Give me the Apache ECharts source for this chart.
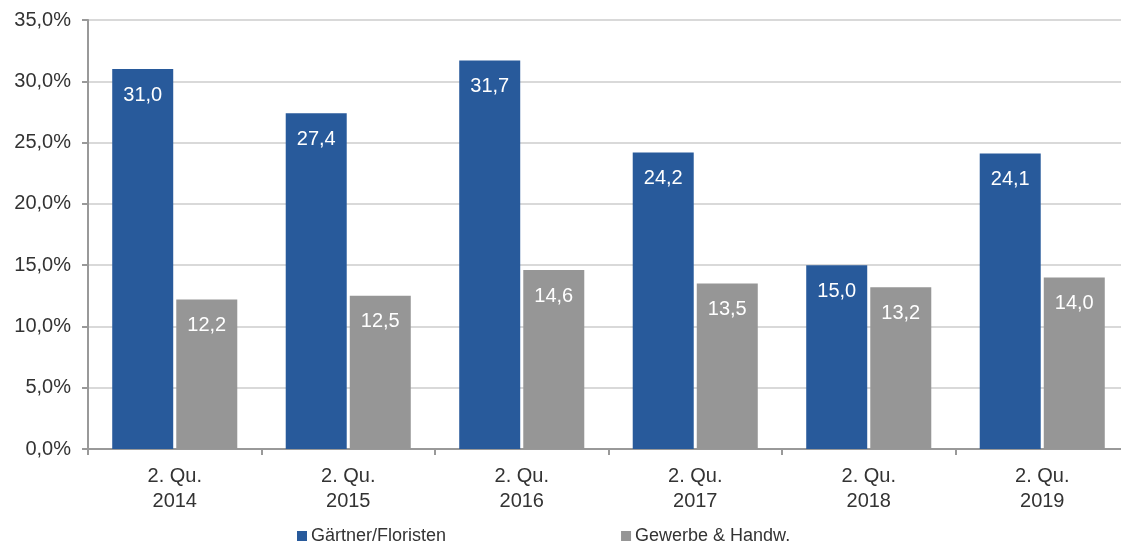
<!DOCTYPE html>
<html>
<head>
<meta charset="utf-8">
<script src="https://cdn.jsdelivr.net/npm/echarts@6/dist/echarts.min.js"></script>
<style>
html, body { margin: 0; padding: 0; background: #fff; }
#chart { width: 1121px; height: 548px; }
</style>
</head>
<body>
<div id="chart"></div>
<script>
// Kategorien und Werte
const categories = ['2. Qu.\n2014', '2. Qu.\n2015', '2. Qu.\n2016', '2. Qu.\n2017', '2. Qu.\n2018', '2. Qu.\n2019'];
const gaertner = [31.0, 27.4, 31.7, 24.2, 15.0, 24.1];
const gewerbe = [12.2, 12.5, 14.6, 13.5, 13.2, 14.0];
const seriesNames = ['Gärtner/Floristen', 'Gewerbe & Handw.'];

const fmt = v => v.toFixed(1).replace('.', ',');
const font = 'Liberation Sans, Arial, sans-serif';

const myChart = echarts.init(document.getElementById('chart'));

const option = {
    animation: false,
    textStyle: { fontFamily: font },
    // Plotbereich läuft rechts etwas über den Bildrand hinaus
    grid: { left: 88, width: 1041, top: 20, height: 429, outerBoundsMode: 'none' },
    legend: {
        data: seriesNames,
        top: 522,
        left: 292,
        itemWidth: 10,
        itemHeight: 10,
        itemGap: 175,
        icon: 'rect',
        textStyle: { fontSize: 18, color: '#333', fontFamily: font, padding: [0, 0, 0, -1] }
    },
    xAxis: {
        type: 'category',
        data: categories,
        axisLine: { lineStyle: { color: '#999', width: 2 } },
        axisTick: { show: true, length: 6, lineStyle: { color: '#999', width: 2 } },
        axisLabel: { fontSize: 20, color: '#333', lineHeight: 25, margin: 15 }
    },
    yAxis: {
        type: 'value',
        min: 0,
        max: 35,
        interval: 5,
        axisLine: { show: true, lineStyle: { color: '#999', width: 2 } },
        axisTick: { show: true, length: 6, lineStyle: { color: '#999', width: 2 } },
        splitLine: { lineStyle: { color: '#d9d9d9', width: 2 } },
        axisLabel: { fontSize: 20, color: '#333', margin: 17, formatter: v => fmt(v) + '%' }
    },
    series: [
        {
            name: seriesNames[0],
            type: 'bar',
            data: gaertner,
            color: '#285A9B',
            barWidth: 61,
            barGap: '5%',
            label: { show: true, position: 'insideTop', distance: 16, color: '#fff', fontSize: 20, formatter: p => fmt(p.value) }
        },
        {
            name: seriesNames[1],
            type: 'bar',
            data: gewerbe,
            color: '#969696',
            barWidth: 61,
            label: { show: true, position: 'insideTop', distance: 16, color: '#fff', fontSize: 20, formatter: p => fmt(p.value) }
        }
    ]
};

myChart.setOption(option);
window.addEventListener('resize', () => { myChart.resize(); });
</script>
</body>
</html>
